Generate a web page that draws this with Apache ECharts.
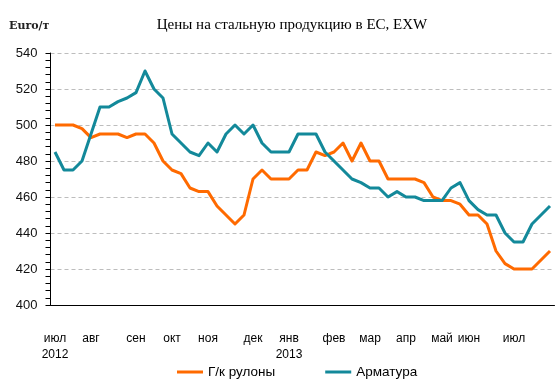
<!DOCTYPE html>
<html><head><meta charset="utf-8">
<script src="https://cdn.jsdelivr.net/npm/echarts@6/dist/echarts.min.js"></script>
<style>html,body{margin:0;padding:0;background:#fff}#c{width:558px;height:390px}</style>
</head><body><div id="c"></div>
<script>
const hrc = [500,500,500,498,493,495,495,495,493,495,495,490,480,475,473,465,463,463,455,450,445,450,470,475,470,470,470,475,475,485,483,485,490,480,490,480,480,470,470,470,470,468,460,458,458,456,450,450,445,430,423,420,420,420,425,430];
const rebar = [485,475,475,480,495,510,510,513,515,518,530,520,515,495,490,485,483,490,485,495,500,495,500,490,485,485,485,495,495,495,485,480,475,470,468,465,465,460,463,460,460,458,458,458,465,468,458,453,450,450,440,435,435,445,450,455];
const monthTicks = [0,4,9,13,17,22,26,31,35,39,43,46,51];
const monthNames = ['июл\n2012','авг','сен','окт','ноя','дек','янв\n2013','фев','мар','апр','май','июн','июл'];
const seriesNames = ['Г/к рулоны','Арматура'];
const yTicks = {min:400, max:540, step:20};

const categories = hrc.map((_, i) => String(i));
const chart = echarts.init(document.getElementById('c'), null, {renderer:'canvas'});
chart.setOption({
  animation:false,
  backgroundColor:'#fff',
  title:{text:'Цены на стальную продукцию в ЕС, EXW', left:287, textAlign:'center', top:13,
    textStyle:{fontFamily:'Liberation Serif', fontSize:15, fontWeight:'normal', color:'#000'}},
  graphic:[{type:'text', left:9, top:21, style:{text:'Euro/т', font:'bold 11px "DejaVu Serif"', fill:'#222'}}],
  legend:{bottom:6, left:172, itemGap:50, itemWidth:26, itemHeight:3, icon:'rect',
    textStyle:{fontFamily:'Liberation Sans', fontSize:13.5, color:'#000'},
    data:seriesNames},
  grid:{left:50.5, right:3.5, top:53, bottom:85},
  xAxis:{type:'category', data:categories, boundaryGap:true,
    axisLine:{lineStyle:{color:'#000', width:1}}, axisTick:{show:false},
    axisLabel:{interval:(i)=>monthTicks.includes(i), hideOverlap:false, margin:26,
      formatter:(v,i)=>{const k=monthTicks.indexOf(Number(v)); return k>=0?monthNames[k]:'';},
      fontFamily:'Liberation Sans', fontSize:12, lineHeight:16, color:'#000'},
    splitLine:{show:false}},
  yAxis:{type:'value', min:yTicks.min, max:yTicks.max, interval:yTicks.step,
    axisLine:{show:true, lineStyle:{color:'#000'}},
    axisTick:{show:true, length:5, lineStyle:{color:'#000'}},
    minorTick:{show:true, splitNumber:5, length:5, lineStyle:{color:'#000'}},
    axisLabel:{margin:13, fontFamily:'Liberation Sans', fontSize:13, color:'#111'},
    splitLine:{show:true, lineStyle:{color:'#bdbdbd', type:[4,3], width:1}}},
  series:[
    {name:seriesNames[0], type:'line', data:hrc, symbol:'none', color:'#FF6A00',
      lineStyle:{width:3, color:'#FF6A00', join:'round'}},
    {name:seriesNames[1], type:'line', data:rebar, symbol:'none', color:'#13899A',
      lineStyle:{width:3, color:'#13899A', join:'round'}}
  ]
});
</script></body></html>
